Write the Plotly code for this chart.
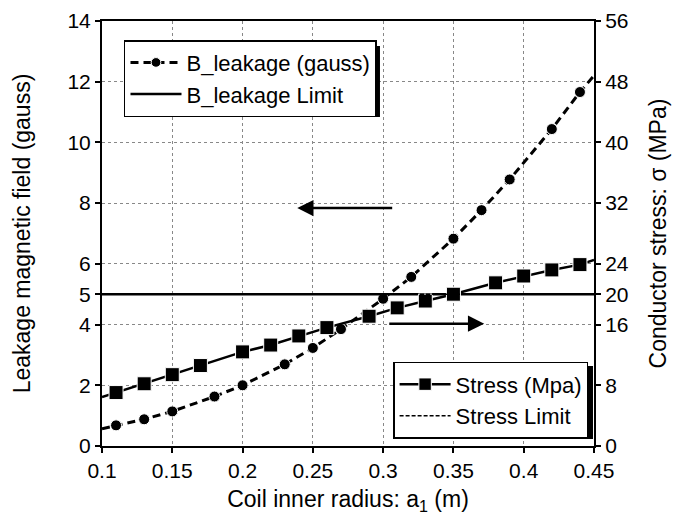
import plotly.graph_objects as go

# Data
b_x = [0.10, 0.11, 0.13, 0.15, 0.18, 0.20, 0.23, 0.25, 0.27, 0.30, 0.32, 0.35, 0.37, 0.39, 0.42, 0.44, 0.45]
b_y = [0.57, 0.68, 0.88, 1.14, 1.63, 2.00, 2.69, 3.23, 3.85, 4.85, 5.57, 6.83, 7.77, 8.78, 10.44, 11.66, 12.2]
b_marker = [0, 1, 1, 1, 1, 1, 1, 1, 1, 1, 1, 1, 1, 1, 1, 1, 0]

s_x = [0.10, 0.11, 0.13, 0.15, 0.17, 0.20, 0.22, 0.24, 0.26, 0.29, 0.31, 0.33, 0.35, 0.38, 0.40, 0.42, 0.44, 0.45]
s_y = [6.45, 7.04, 8.2, 9.4, 10.6, 12.4, 13.3, 14.5, 15.6, 17.1, 18.2, 19.1, 20.0, 21.5, 22.4, 23.2, 23.9, 24.5]
s_marker = [0, 1, 1, 1, 1, 1, 1, 1, 1, 1, 1, 1, 1, 1, 1, 1, 1, 0]

limit_x = [0.1, 0.45]
b_limit = [5, 5]
s_limit = [20, 20]

left_ticks = [0, 2, 4, 5, 6, 8, 10, 12, 14]
right_ticks = [0, 8, 16, 20, 24, 32, 40, 48, 56]
x_ticks = [0.1, 0.15, 0.2, 0.25, 0.3, 0.35, 0.4, 0.45]
x_labels = ["0.1", "0.15", "0.2", "0.25", "0.3", "0.35", "0.4", "0.45"]

FONT = "Liberation Sans, Arial, sans-serif"

fig = go.Figure()

fig.add_trace(go.Scatter(
    x=b_x, y=b_y, name="B_leakage (gauss)", mode="lines+markers",
    line=dict(color="black", width=3, dash="8px,5px"),
    marker=dict(symbol="circle", size=[11 * m for m in b_marker], color="black",
                opacity=1),
    legend="legend", cliponaxis=False))
fig.add_trace(go.Scatter(
    x=limit_x, y=b_limit, name="B_leakage Limit", mode="lines",
    line=dict(color="black", width=2.5), legend="legend"))
fig.add_trace(go.Scatter(
    x=s_x, y=s_y, name="Stress (Mpa)", mode="lines+markers", yaxis="y2",
    line=dict(color="black", width=2.5),
    marker=dict(symbol="square", size=[14 * m for m in s_marker], color="black",
                opacity=1),
    legend="legend2"))
fig.add_trace(go.Scatter(
    x=limit_x, y=s_limit, name="Stress Limit", mode="lines", yaxis="y2",
    line=dict(color="black", width=1.5, dash="4px,2px"), legend="legend2"))

# arrows
fig.add_annotation(x=0.2389, y=7.84, ax=0.3075, ay=7.84, xref="x", yref="y",
                   axref="x", ayref="y", showarrow=True, arrowhead=2,
                   arrowsize=1.3, arrowwidth=2.5, arrowcolor="black", text="")
fig.add_annotation(x=0.3719, y=4.03, ax=0.3033, ay=4.03, xref="x", yref="y",
                   axref="x", ayref="y", showarrow=True, arrowhead=2,
                   arrowsize=1.3, arrowwidth=2.5, arrowcolor="black", text="")

# legend drop shadows
fig.add_shape(type="rect", xref="paper", yref="paper", layer="above",
              x0=0.0549, x1=0.565, y0=0.774, y1=0.941,
              fillcolor="black", line=dict(width=0))
fig.add_shape(type="rect", xref="paper", yref="paper", layer="above",
              x0=0.602, x1=0.998, y0=0.0165, y1=0.188,
              fillcolor="black", line=dict(width=0))

grid = dict(showgrid=True, gridcolor="#888888", griddash="dot", gridwidth=1)
tickstyle = dict(ticks="outside", ticklen=5, tickwidth=1.5, tickcolor="black",
                 tickfont=dict(size=21), automargin=False)

fig.update_layout(
    width=681, height=525,
    margin=dict(l=102, r=87, t=21, b=79),
    plot_bgcolor="white", paper_bgcolor="white",
    font=dict(family=FONT, size=21, color="black"),
    showlegend=True,
    xaxis=dict(range=[0.1, 0.45], tickvals=x_ticks, ticktext=x_labels,
               showline=True, linecolor="black", linewidth=2, mirror=True,
               title=dict(text="Coil inner radius: a<sub>1</sub> (m)", standoff=10,
                          font=dict(size=23)),
               zeroline=False, **grid, **tickstyle),
    yaxis=dict(range=[0, 14], tickvals=left_ticks,
               showline=True, linecolor="black", linewidth=2,
               title=dict(text="Leakage magnetic field (gauss)", standoff=30,
                          font=dict(size=23)),
               zeroline=False, **grid, **tickstyle),
    yaxis2=dict(range=[0, 56], tickvals=right_ticks, overlaying="y", side="right",
                showline=True, linecolor="black", linewidth=2,
                showgrid=False, zeroline=False,
                title=dict(text="Conductor stress: σ (MPa)", standoff=22,
                           font=dict(size=23)),
                **tickstyle),
    legend=dict(x=0.0447, y=0.955, xanchor="left", yanchor="top",
                bgcolor="white", bordercolor="black", borderwidth=1.5,
                font=dict(size=22), itemwidth=51, tracegroupgap=0),
    legend2=dict(x=0.988, y=0.198, xanchor="right", yanchor="top",
                 bgcolor="white", bordercolor="black", borderwidth=1.5,
                 font=dict(size=22), itemwidth=51, tracegroupgap=0),
)

fig.write_html("out.html", post_script="document.body.style.margin='0';",
               config={"displayModeBar": False})
